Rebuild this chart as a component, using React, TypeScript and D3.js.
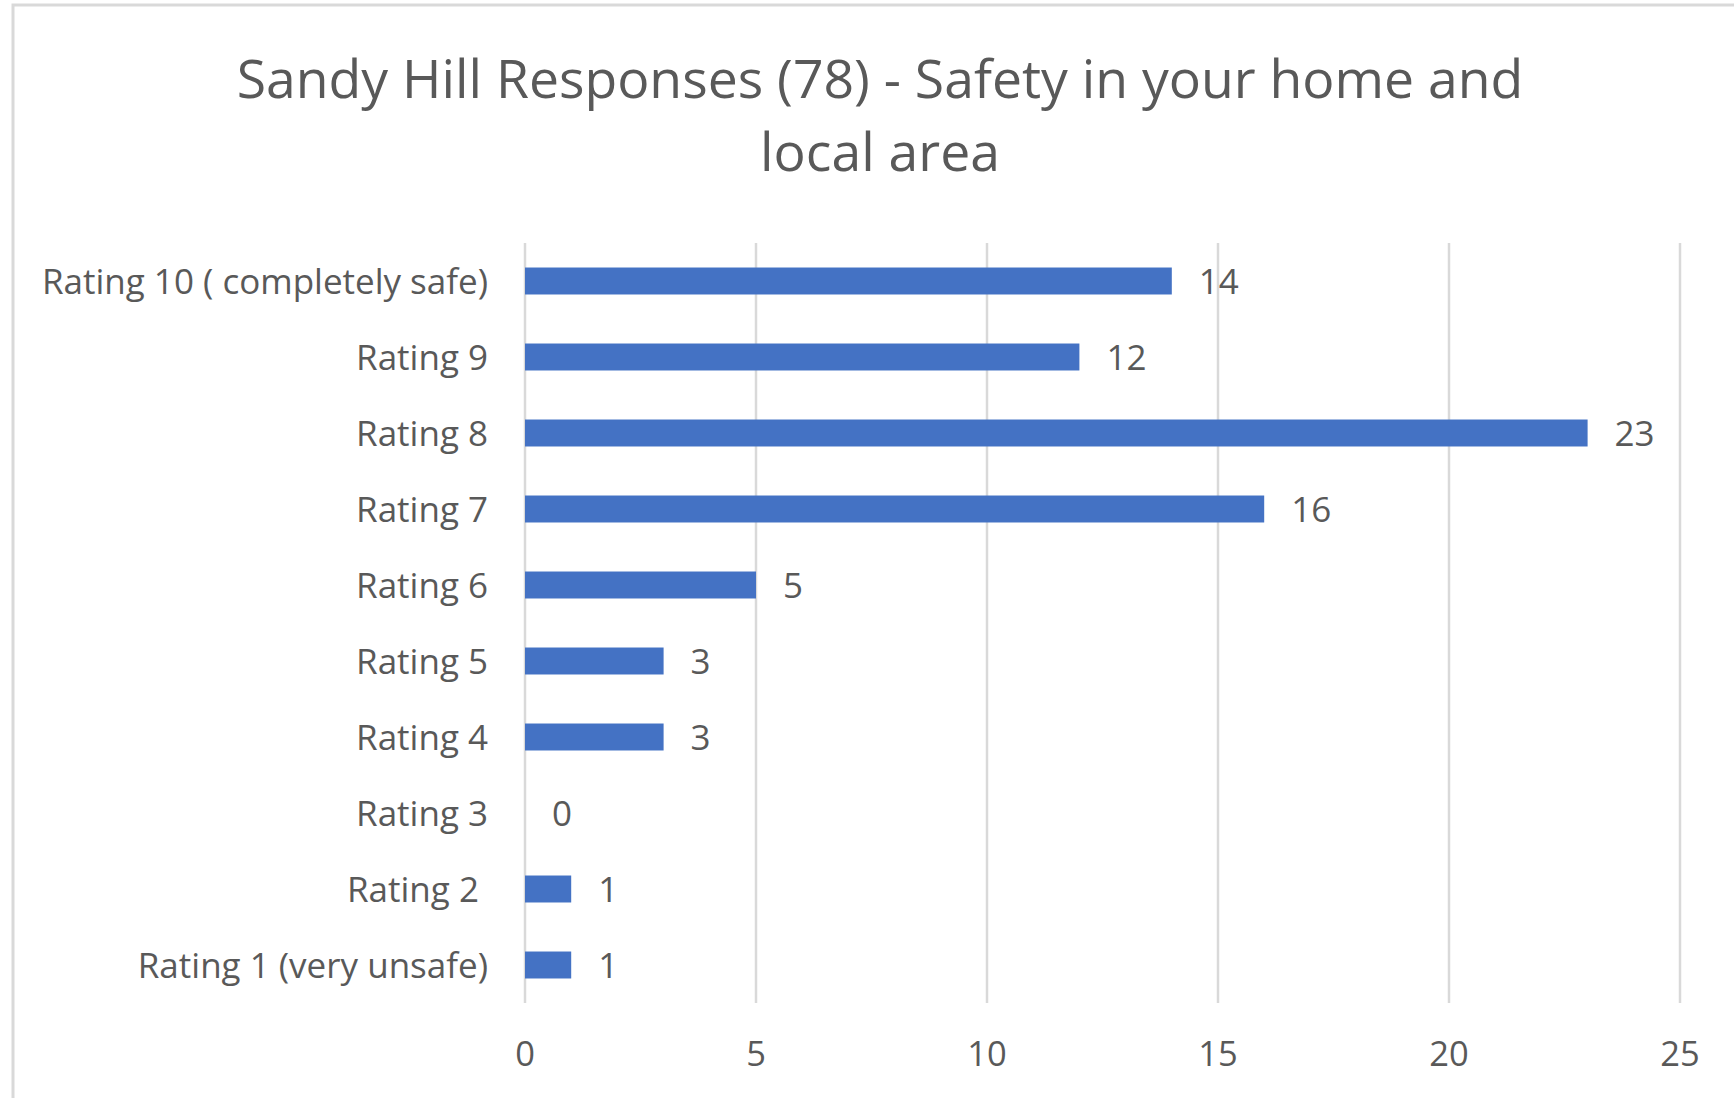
import React from "react";
import * as d3 from "d3";

const categories = [
  "Rating 10 ( completely safe)",
  "Rating 9",
  "Rating 8",
  "Rating 7",
  "Rating 6",
  "Rating 5",
  "Rating 4",
  "Rating 3",
  "Rating 2 ",
  "Rating 1 (very unsafe)",
];
const values = [14, 12, 23, 16, 5, 3, 3, 0, 1, 1];
const xTicks = [0, 5, 10, 15, 20, 25];
const titleLines = ["Sandy Hill Responses (78) - Safety in your home and", "local area"];

const W = 1734;
const H = 1098;
const FONT = "'Open Sans', sans-serif";
const TEXT = "#595959";
const GRID = "#d9d9d9";
const BAR = "#4472C4";

export default function App() {
  const x = d3.scaleLinear().domain([0, 25]).range([525, 1680]);
  const y = d3
    .scaleBand<string>()
    .domain(categories)
    .range([243, 1003])
    .paddingInner(0.645)
    .paddingOuter(0.3225);
  const [y0, y1] = y.range();

  return (
    <svg
      width={W}
      height={H}
      style={{ position: "absolute", left: 0, top: 0, background: "#fff" }}
    >
      <rect x={13} y={5} width={1800} height={1200} fill="#fff" stroke={GRID} strokeWidth={3} />
      {titleLines.map((t, i) => (
        <text
          key={i}
          x={880}
          y={98 + i * 73}
          textAnchor="middle"
          fontFamily={FONT}
          fontSize={53.5}
          fill={TEXT}
        >
          {t}
        </text>
      ))}
      {xTicks.map((t) => (
        <g key={t}>
          <line x1={x(t)} x2={x(t)} y1={y0} y2={y1} stroke={GRID} strokeWidth={2.5} />
          <text
            x={x(t)}
            y={1066}
            textAnchor="middle"
            fontFamily={FONT}
            fontSize={34.5}
            fill={TEXT}
          >
            {t}
          </text>
        </g>
      ))}
      {categories.map((c, i) => {
        const by = y(c)!;
        const cy = by + y.bandwidth() / 2;
        return (
          <g key={c}>
            <rect x={x(0)} y={by} width={x(values[i]) - x(0)} height={y.bandwidth()} fill={BAR} />
            <text
              x={x(0) - 37}
              y={cy + 12.5}
              textAnchor="end"
              fontFamily={FONT}
              fontSize={35}
              fill={TEXT}
              style={{ whiteSpace: "pre" }}
            >
              {c}
            </text>
            <text
              x={x(values[i]) + 27}
              y={cy + 12.5}
              fontFamily={FONT}
              fontSize={35}
              fill={TEXT}
            >
              {values[i]}
            </text>
          </g>
        );
      })}
    </svg>
  );
}
